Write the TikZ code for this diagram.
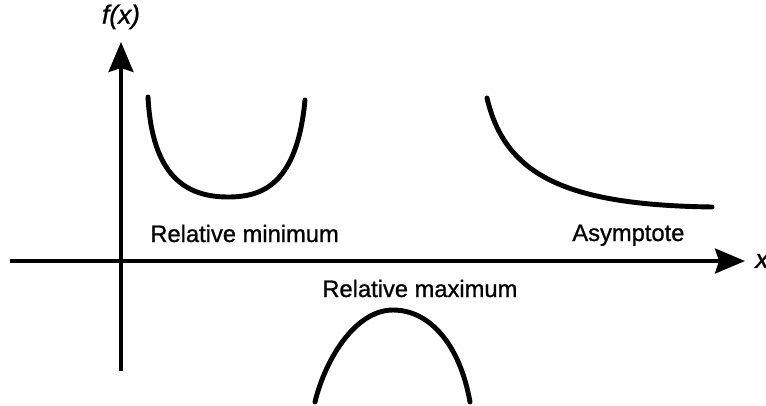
\documentclass[tikz,border=0pt]{standalone}
\usepackage{fontspec}
\setmainfont{Liberation Sans}[FakeBold=0.9, AutoFakeBold=0.9]
\usepackage{tikz}
\usetikzlibrary{arrows.meta, positioning}
\tikzset{
    axis/.style={draw, line width=1.8pt, -{Stealth[length=0.6cm, width=0.5cm, inset=0.08cm]}},
    curve/.style={draw, line width=2.8pt, line cap=round},
    lbl/.style={font=\fontsize{13.5}{16}\selectfont\bfseries, inner sep=0pt, anchor=base west},
    axlbl/.style={font=\fontsize{15}{18}\selectfont\bfseries\itshape, inner sep=0pt}
}
\begin{document}
\begin{tikzpicture}[x=0.02cm, y=-0.02cm]
        \useasboundingbox (0,0) rectangle (766,405);
        % axes
        \coordinate (xl) at (10,261);
        \coordinate (xr) at (745,261);
        \coordinate (yb) at (121,371);
        \coordinate (yt) at (121,42);
        \draw [axis] (xl) -- (xr);
        \draw [axis] (yb) -- (yt);
        \node (xlab) [axlbl, right=0.2cm of xr] {x};
        \node (ylab) [axlbl, above=0.25cm of yt] {f(x)};

        % curves
        \draw [curve] (148,97) .. controls (152,175) and (185,197) .. (228,197)
            .. controls (262,197) and (297,185) .. (305,100);
        \draw [curve] (487,98) .. controls (505,175) and (565,205) .. (712,207);
        \draw [curve] (315,402) .. controls (325,360) and (355,310) .. (393,310)
            .. controls (430,310) and (460,345) .. (470,402);

        % labels
        \node (rmin) [lbl] at (150,242) {Relative minimum};
        \node (asym) [lbl] at (572,241) {Asymptote};
        \node (rmax) [lbl] at (322,297) {Relative maximum};
    \end{tikzpicture}
\end{document}
